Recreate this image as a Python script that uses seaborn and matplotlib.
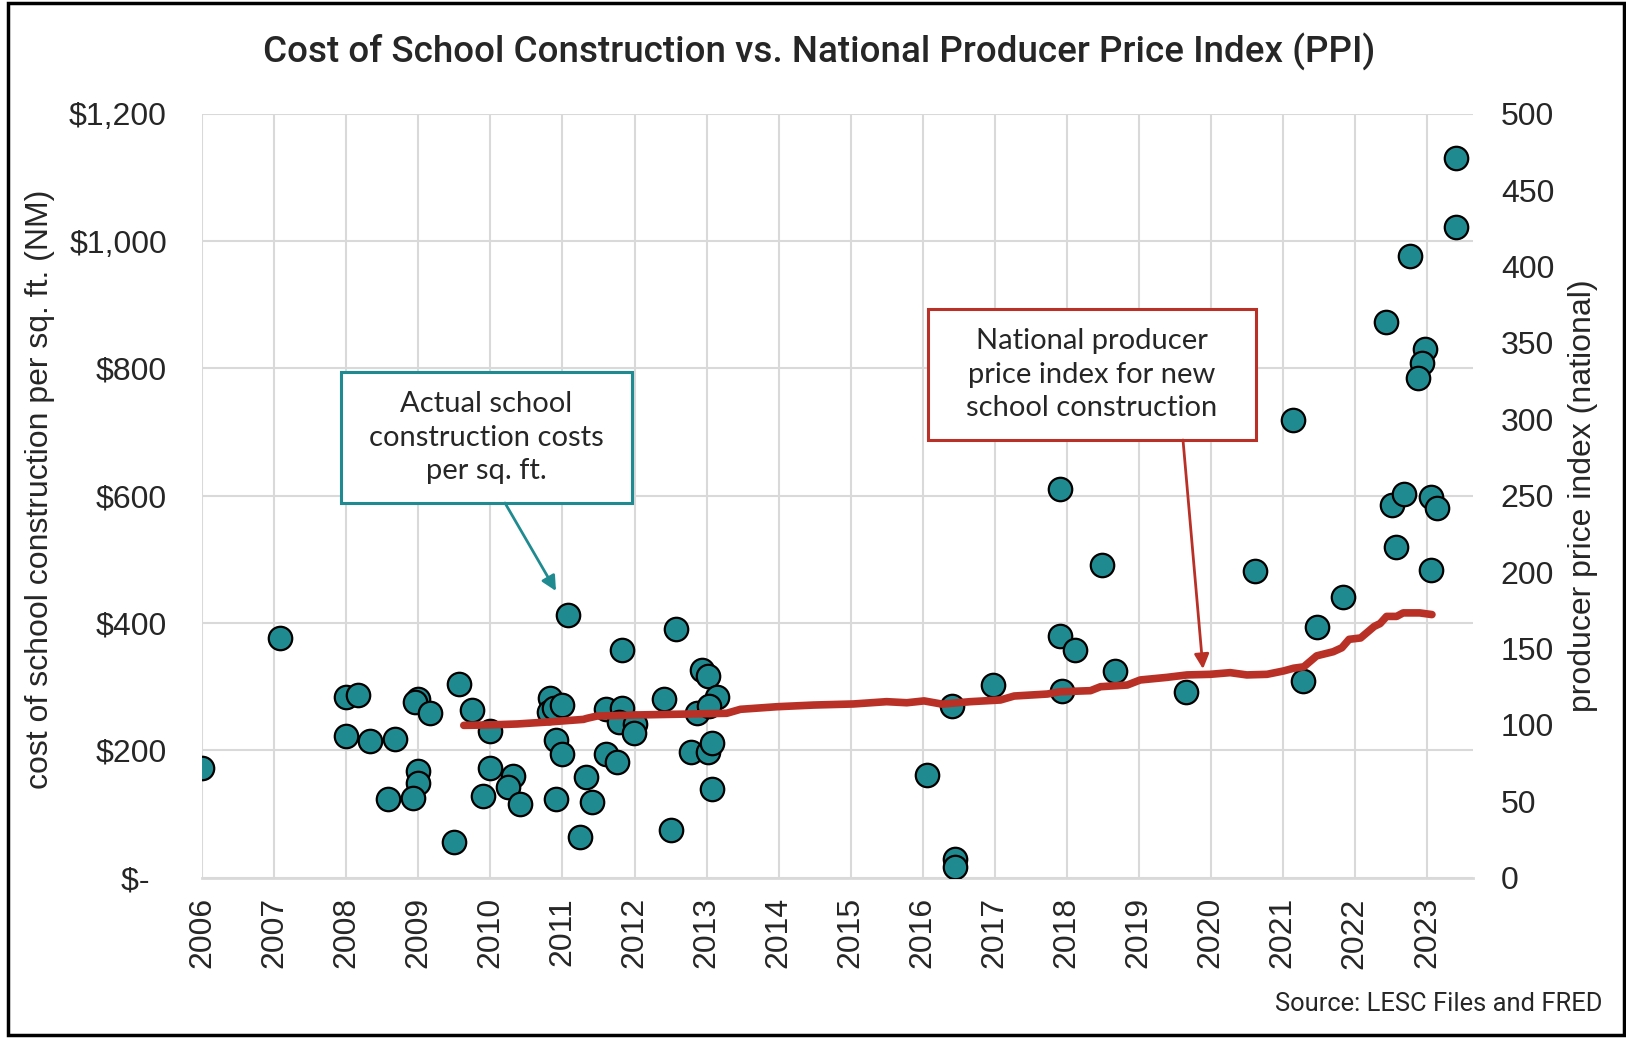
import matplotlib
matplotlib.use("Agg")
import matplotlib.pyplot as plt
import seaborn as sns
import pandas as pd
from matplotlib.patches import Rectangle, FancyArrowPatch
from matplotlib.ticker import FuncFormatter, MultipleLocator

# --- datos ---
# costos de construccion escolar (NM), por fecha decimal
cost_year = [
    2006.00, 2007.08, 2008.00, 2008.16, 2008.00, 2008.33, 2008.67, 2008.99,
    2008.95, 2009.16, 2009.57, 2009.75, 2010.00, 2008.99, 2008.99, 2008.92,
    2008.58, 2009.50, 2010.00, 2009.90, 2010.32, 2010.24, 2010.41, 2011.07,
    2010.82, 2010.81, 2010.88, 2011.00, 2010.91, 2011.00, 2010.91, 2011.24,
    2011.33, 2011.41, 2011.83, 2012.58, 2011.61, 2011.82, 2011.78, 2012.01,
    2011.99, 2012.41, 2011.61, 2011.75, 2012.50, 2012.93, 2013.02, 2013.15,
    2012.87, 2013.03, 2012.79, 2013.02, 2013.08, 2013.08, 2016.06, 2016.41,
    2016.45, 2016.45, 2016.98, 2017.90, 2017.90, 2018.12, 2017.94, 2018.49,
    2018.67, 2019.66, 2020.61, 2021.28, 2021.48, 2021.83, 2023.40, 2023.40,
    2022.76, 2022.43, 2022.98, 2022.93, 2022.88, 2021.14, 2022.51, 2022.68,
    2023.06, 2023.14, 2022.57, 2023.06,
]
cost_value = [
    173, 376, 284, 287, 222, 215, 218, 281,
    276, 258, 305, 263, 231, 167, 148, 125,
    124, 56, 173, 128, 160, 143, 116, 413,
    283, 260, 266, 271, 216, 195, 123, 64,
    158, 119, 357, 390, 265, 266, 245, 242,
    227, 281, 195, 181, 75, 326, 317, 284,
    259, 269, 198, 198, 211, 139, 162, 269,
    30, 17, 303, 610, 380, 357, 294, 491,
    324, 291, 482, 309, 394, 441, 1130, 1022,
    976, 873, 830, 809, 785, 719, 586, 603,
    598, 580, 519, 483,
]

# indice de precios al productor (nacional)
ppi_year = [
    2009.63, 2010.00, 2010.37, 2010.83, 2011.29, 2011.34, 2011.48, 2012.03,
    2012.73, 2013.28, 2013.47, 2013.98, 2014.49, 2015.04, 2015.50, 2015.78,
    2016.02, 2016.27, 2016.66, 2017.08, 2017.27, 2017.73, 2017.91, 2018.33,
    2018.47, 2018.84, 2019.02, 2019.39, 2019.67, 2019.99, 2020.27, 2020.50,
    2020.78, 2021.01, 2021.15, 2021.29, 2021.47, 2021.70, 2021.82, 2021.92,
    2022.08, 2022.27, 2022.35, 2022.44, 2022.58, 2022.67, 2022.90, 2023.07,
]
ppi_value = [
    99.7, 100.0, 100.6, 102.0, 103.6, 104.3, 105.8, 106.5,
    107.1, 107.6, 110.2, 111.9, 113.0, 113.7, 115.2, 114.5,
    115.7, 113.6, 115.2, 116.3, 118.9, 120.2, 121.7, 122.4,
    125.0, 126.1, 129.4, 131.1, 132.7, 133.1, 134.2, 132.7,
    133.1, 135.3, 137.1, 138.0, 145.2, 147.9, 150.5, 156.0,
    156.9, 164.5, 166.3, 171.0, 171.0, 173.3, 173.3, 172.2,
]

year_ticks = list(range(2006, 2024))

TEAL = "#1F8B90"
RED = "#B93126"
GRID = "#D9D9D9"

sns.set_theme(style="white")
plt.rcParams['font.family'] = ['Liberation Sans', 'DejaVu Sans']

W, H = 1626, 1038
fig = plt.figure(figsize=(W / 100, H / 100), dpi=100)
ax = fig.add_axes([202.3 / W, 1 - 877.7 / H, (1473 - 202.3) / W, (877.7 - 113.7) / H])

df_cost = pd.DataFrame({"year": cost_year, "cost": cost_value})
df_ppi = pd.DataFrame({"year": ppi_year, "ppi": ppi_value})

sns.scatterplot(data=df_cost, x="year", y="cost", ax=ax, s=285, color=TEAL,
                edgecolor="black", linewidth=1.6, zorder=3, legend=False)

ax.set_xlim(2006, 2023.64)
ax.set_ylim(0, 1200)
ax.set_xticks(year_ticks)
ax.set_xticklabels([str(y) for y in year_ticks], rotation=90)
ax.yaxis.set_major_locator(MultipleLocator(200))
ax.yaxis.set_major_formatter(FuncFormatter(lambda v, _: "$-  " if v == 0 else f"${v:,.0f}"))
ax.grid(True, color=GRID, linewidth=1.5)
ax.set_axisbelow(True)
for s in ["top", "right", "left"]:
    ax.spines[s].set_visible(False)
ax.spines["bottom"].set_color(GRID)
ax.spines["bottom"].set_linewidth(2)
ax.tick_params(axis="y", length=0, pad=25.5, labelsize=23)
ax.tick_params(axis="x", length=0, pad=14, labelsize=23)
ax.set_xlabel("")
ax.set_ylabel("")

# eje secundario para el PPI
ax2 = ax.twinx()
sns.lineplot(data=df_ppi, x="year", y="ppi", ax=ax2, color=RED, linewidth=5.5,
             legend=False)
ax2.set_ylim(0, 500)
ax2.yaxis.set_major_locator(MultipleLocator(50))
ax2.grid(False)
for s in ["top", "right", "left", "bottom"]:
    ax2.spines[s].set_visible(False)
ax2.tick_params(axis="y", length=0, pad=20, labelsize=23)
ax2.set_ylabel("")
ax2.set_xlim(2006, 2023.64)

# etiquetas de los ejes
fig.text(40 / W, 1 - 489 / H, "cost of school construction per sq. ft. (NM)",
         rotation=90, ha="center", va="center", fontsize=23)
fig.text(1583 / W, 1 - 496 / H, "producer price index (national)",
         rotation=90, ha="center", va="center", fontsize=23)

# titulo y fuente
fig.text(819 / W, 1 - 52 / H,
         "Cost of School Construction vs. National Producer Price Index (PPI)",
         ha="center", va="center", fontsize=26.5, fontweight="medium",
         family=["Roboto", "DejaVu Sans"])
fig.text(1602 / W, 1 - 1004 / H, "Source: LESC Files and FRED",
         ha="right", va="center", fontsize=18.4, family=["Roboto", "DejaVu Sans"])

# cajas de anotacion
def caja(x0, y0, x1, y1, color, lines, tip_from, tip_to):
    fig.add_artist(Rectangle((x0 / W, 1 - y1 / H), (x1 - x0) / W, (y1 - y0) / H,
                             transform=fig.transFigure, facecolor="white",
                             edgecolor=color, linewidth=2.2, zorder=5))
    fig.text((x0 + x1) / 2 / W, 1 - (y0 + y1) / 2 / H, "\n".join(lines),
             ha="center", va="center", fontsize=21, linespacing=1.38,
             family=["Lato", "DejaVu Sans"], zorder=6)
    fig.add_artist(FancyArrowPatch((tip_from[0] / W, 1 - tip_from[1] / H),
                                   (tip_to[0] / W, 1 - tip_to[1] / H),
                                   transform=fig.transFigure, arrowstyle="-|>",
                                   mutation_scale=22, color=color, linewidth=2,
                                   shrinkA=0, shrinkB=0, zorder=6))

caja(341, 372, 632, 503, TEAL,
     ["Actual school", "construction costs", "per sq. ft."],
     (505, 503), (556, 591))
caja(928, 309, 1256, 440, RED,
     ["National producer", "price index for new", "school construction"],
     (1183, 440), (1203, 669))

# marco exterior
fig.add_artist(Rectangle((8 / W, 3 / H), (1616 / W), (1032 / H),
                         transform=fig.transFigure, fill=False,
                         edgecolor="black", linewidth=2.5, zorder=10))

plt.savefig("out.png", dpi=100)
